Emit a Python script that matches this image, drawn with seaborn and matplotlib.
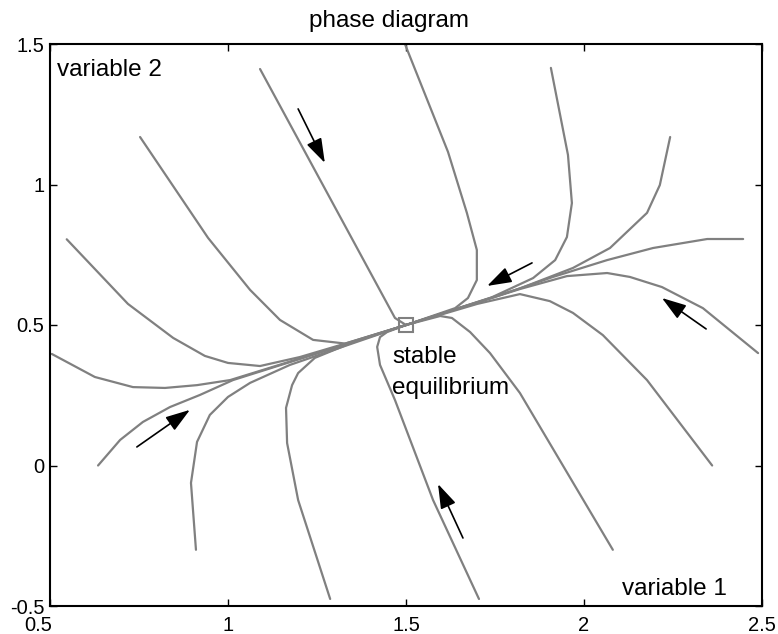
import matplotlib
matplotlib.use("Agg")
import matplotlib.pyplot as plt
from matplotlib.transforms import ScaledTranslation
import seaborn as sns
import pandas as pd

# Trajectories of the two-variable system, each as (variable 1, variable 2) points
traj_a = [(0.547, 0.805), (0.719, 0.575), (0.846, 0.454), (0.935, 0.390), (1.000, 0.365),
          (1.090, 0.354), (1.202, 0.386), (1.343, 0.439), (1.5, 0.5)]
traj_b = [(0.505, 0.397), (0.626, 0.315), (0.733, 0.279), (0.823, 0.276), (0.913, 0.286),
          (1.006, 0.304), (1.126, 0.351), (1.287, 0.414), (1.5, 0.5)]
traj_c = [(0.753, 1.169), (0.944, 0.810), (1.062, 0.625), (1.146, 0.518), (1.239, 0.447),
          (1.329, 0.434), (1.5, 0.5)]
traj_d = [(1.090, 1.411), (1.469, 0.525), (1.5, 0.5)]
traj_e = [(1.497, 1.5), (1.618, 1.116), (1.671, 0.899), (1.699, 0.767), (1.699, 0.660),
          (1.674, 0.596), (1.638, 0.560), (1.5, 0.5)]
traj_f = [(1.907, 1.415), (1.955, 1.105), (1.966, 0.934), (1.952, 0.813), (1.919, 0.731),
          (1.857, 0.667), (1.740, 0.598), (1.5, 0.5)]
traj_g = [(2.242, 1.169), (2.213, 0.998), (2.177, 0.899), (2.073, 0.774), (1.969, 0.703),
          (1.820, 0.630), (1.5, 0.5)]
traj_h = [(2.447, 0.806), (2.346, 0.806), (2.194, 0.774), (2.065, 0.731), (1.913, 0.671),
          (1.750, 0.600), (1.5, 0.5)]
traj_i = [(2.489, 0.400), (2.334, 0.560), (2.219, 0.635), (2.129, 0.671), (2.065, 0.685),
          (1.952, 0.674), (1.820, 0.628), (1.5, 0.5)]
traj_j = [(2.360, 0.000), (2.177, 0.304), (2.053, 0.464), (1.969, 0.543), (1.904, 0.585),
          (1.820, 0.610), (1.700, 0.575), (1.5, 0.5)]
traj_k = [(2.081, -0.300), (1.820, 0.258), (1.736, 0.400), (1.680, 0.475), (1.629, 0.525),
          (1.596, 0.532), (1.5, 0.5)]
traj_l = [(1.705, -0.475), (1.576, -0.123), (1.469, 0.233), (1.427, 0.358), (1.419, 0.422),
          (1.427, 0.457), (1.447, 0.475), (1.5, 0.5)]
traj_m = [(1.287, -0.475), (1.197, -0.123), (1.166, 0.080), (1.163, 0.205), (1.180, 0.286),
          (1.197, 0.329), (1.244, 0.383), (1.350, 0.438), (1.5, 0.5)]
traj_n = [(0.910, -0.300), (0.896, -0.062), (0.913, 0.084), (0.949, 0.180), (1.000, 0.244),
          (1.062, 0.294), (1.174, 0.358), (1.5, 0.5)]
traj_o = [(0.635, 0.000), (0.697, 0.091), (0.761, 0.155), (0.837, 0.208), (0.921, 0.251),
          (1.014, 0.304), (1.174, 0.368), (1.5, 0.5)]

trajectories = [traj_a, traj_b, traj_c, traj_d, traj_e, traj_f, traj_g, traj_h,
                traj_i, traj_j, traj_k, traj_l, traj_m, traj_n, traj_o]

equilibrium = (1.5, 0.5)

# Direction-of-flow arrows: (tail, head)
arrows = [((1.197, 1.269), (1.272, 1.077)),
          ((1.854, 0.721), (1.728, 0.639)),
          ((2.343, 0.486), (2.219, 0.596)),
          ((0.744, 0.066), (0.893, 0.198)),
          ((1.660, -0.258), (1.590, -0.066))]

x_ticks = [0.5, 1.0, 1.5, 2.0, 2.5]
x_tick_labels = ["0.5", "1", "1.5", "2", "2.5"]
y_ticks = [-0.5, 0.0, 0.5, 1.0, 1.5]
y_tick_labels = ["-0.5", "0", "0.5", "1", "1.5"]

rows = []
for k, tr in enumerate(trajectories):
    for order, (xv, yv) in enumerate(tr):
        rows.append({"traj": k, "order": order, "x": xv, "y": yv})
df = pd.DataFrame(rows)

sns.set_style("ticks")
plt.rcParams["font.family"] = ["Liberation Sans", "DejaVu Sans"]
plt.rcParams["text.color"] = "black"
plt.rcParams["xtick.color"] = "black"
plt.rcParams["ytick.color"] = "black"

GRAY = "#808080"
fig = plt.figure(figsize=(7.78, 6.34), dpi=100)
ax = fig.add_axes([50 / 778, 28 / 634, 712 / 778, 562 / 634])

sns.lineplot(data=df, x="x", y="y", units="traj", estimator=None, sort=False,
             color=GRAY, linewidth=1.6, ax=ax)

ax.plot([equilibrium[0]], [equilibrium[1]], marker="s", markersize=10.5,
        markerfacecolor="none", markeredgecolor=GRAY, markeredgewidth=1.5,
        linestyle="none", zorder=5)

for tail, head in arrows:
    ax.annotate("", xy=head, xytext=tail,
                arrowprops=dict(arrowstyle="-|>,head_length=1.0,head_width=0.33",
                                color="black", lw=1.2, shrinkA=0, shrinkB=0,
                                mutation_scale=15))

ax.set_xlim(0.5, 2.5)
ax.set_ylim(-0.5, 1.5)
ax.set_xticks(x_ticks)
ax.set_xticklabels(x_tick_labels)
ax.set_yticks(y_ticks)
ax.set_yticklabels(y_tick_labels)
ax.set_xlabel("")
ax.set_ylabel("")
ax.tick_params(direction="in", length=5, width=1.0, top=True, right=True,
               labelsize=14.5, colors="black")
ax.tick_params(axis="x", pad=7)
ax.tick_params(axis="y", pad=4)
for sp in ax.spines.values():
    sp.set_visible(True)
    sp.set_color("black")
    sp.set_linewidth(1.5)

# first x label sits slightly left of its tick
first = ax.get_xticklabels()[0]
first.set_transform(first.get_transform() + ScaledTranslation(-0.12, 0, fig.dpi_scale_trans))

ax.set_title("phase diagram", x=0.476, y=1.030, pad=0, fontsize=17.5, va="baseline")
ax.text(0.520, 1.386, "variable 2", fontsize=17.5, va="baseline", ha="left")
ax.text(2.107, -0.461, "variable 1", fontsize=17.5, va="baseline", ha="left")
ax.text(1.461, 0.365, "stable", fontsize=17.5, va="baseline", ha="left")
ax.text(1.461, 0.254, "equilibrium", fontsize=17.5, va="baseline", ha="left")

fig.savefig("out.png", dpi=100)
